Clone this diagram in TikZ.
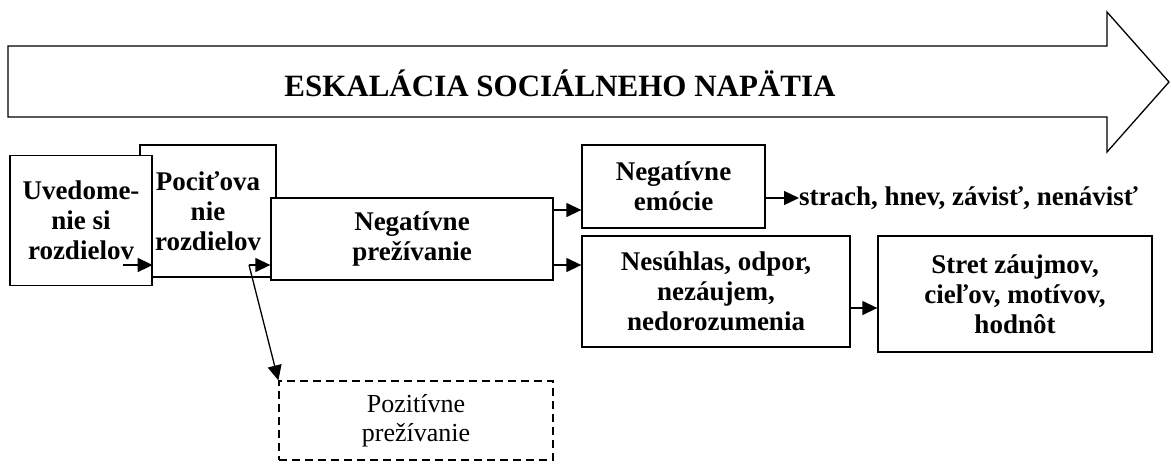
\documentclass[tikz,border=0pt]{standalone}
\usepackage{fontspec}
\setmainfont{Liberation Serif}
\usetikzlibrary{arrows.meta}
\tikzset{
  box/.style={draw, line width=1.3pt, fill=white, inner sep=0pt, align=center,
    font=\fontsize{27}{30}\selectfont\bfseries},
  arr/.style={line width=1.3pt, -{Triangle[length=15pt,width=14pt]}},
}
\begin{document}
\begin{tikzpicture}[x=1pt,y=-1pt]
  \useasboundingbox (0,0) rectangle (1171,464);
  % escalation arrow
  \draw[line width=1.3pt] (8,46) -- (1107,46) -- (1107,12) -- (1169,82)
    -- (1107,152) -- (1107,117) -- (8,117) -- cycle;
  \node[font=\fontsize{31}{35}\selectfont\bfseries] (title) at (560,83)
    {ESKALÁCIA SOCIÁLNEHO NAPÄTIA};
  % boxes
  \node[box, minimum width=136pt, minimum height=132pt] (pc) at (208,211)
    {Pociťova\\nie\\rozdielov};
  \node[box, minimum width=142pt, minimum height=130pt] (uv) at (81,220.5)
    {Uvedome-\\nie si\\rozdielov};
  \node[box, minimum width=282pt, minimum height=82pt] (np) at (412,239)
    {Negatívne\\prežívanie};
  \node[box, minimum width=183pt, minimum height=83pt] (ne) at (673.5,186.5)
    {Negatívne\\emócie};
  \node[box, minimum width=268pt, minimum height=111pt] (ns) at (716,291.5)
    {Nesúhlas, odpor,\\nezáujem,\\nedorozumenia};
  \node[box, minimum width=274pt, minimum height=116pt] (st) at (1015,294)
    {Stret záujmov,\\cieľov, motívov,\\hodnôt};
  \node[box, dash pattern=on 8pt off 5pt, font=\fontsize{26}{29}\selectfont,
    minimum width=274pt, minimum height=79pt] (pz) at (416,420.5)
    {Pozitívne\\prežívanie};
  \node[anchor=west, inner sep=0pt, font=\fontsize{27}{30}\selectfont\bfseries]
    (em) at (799,198) {strach, hnev, závisť, nenávisť};
  % connectors
  \coordinate (s1) at (123,265);
  \coordinate (s2) at (249,265);
  \draw[arr] (s1) -- (s1 -| uv.east);
  \draw[arr] (s2) -- (s2 -| np.west);
  \draw[arr] (s2) -- (pz.north west);
  \draw[arr] (np.east |- 0,210) -- (ne.west |- 0,210);
  \draw[arr] (np.east |- 0,265) -- (ns.west |- 0,265);
  \draw[arr] (ne.east |- em.west) -- (em.west);
  \draw[arr] (ns.east |- 0,308) -- (st.west |- 0,308);
\end{tikzpicture}
\end{document}
